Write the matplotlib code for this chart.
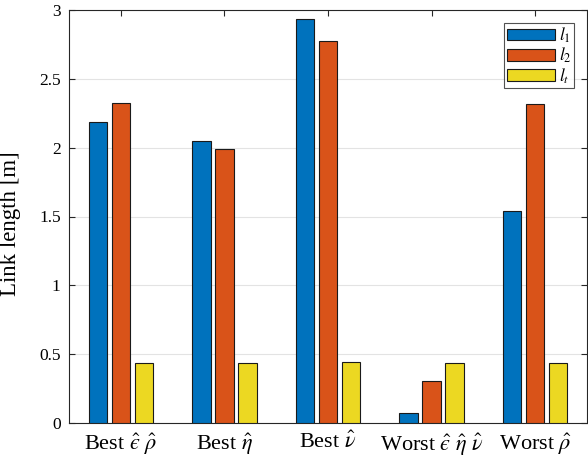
import matplotlib
matplotlib.use("Agg")
import matplotlib.pyplot as plt
import numpy as np

categories = ['Best $\\hat{\u03f5}\\ \\hat{\\rho}$', r'Best $\hat{\eta}$', r'Best $\hat{\nu}$',
              'Worst $\\hat{\u03f5}\\ \\hat{\\eta}\\ \\hat{\\nu}$', r'Worst $\hat{\rho}$']
l1 = [2.184, 2.046, 2.932, 0.070, 1.537]
l2 = [2.326, 1.990, 2.777, 0.307, 2.319]
lt = [0.438, 0.438, 0.443, 0.438, 0.435]
series_labels = [r'$l_1$', r'$l_2$', r'$l_t$']
colors = ['#0072BD', '#D95319', '#ECD822']
yticks = [0, 0.5, 1, 1.5, 2, 2.5, 3]
ytick_labels = ['0', '0.5', '1', '1.5', '2', '2.5', '3']

plt.rcParams['font.family'] = ['Liberation Serif', 'DejaVu Serif']
plt.rcParams['mathtext.fontset'] = 'stix'

fig = plt.figure(figsize=(5.88, 4.57), dpi=100)
ax = fig.add_axes([69/588, 34/457, 518/588, 413/457])

x = np.arange(1, len(categories) + 1)
width = 0.178
offsets = [-0.222, 0.0, 0.222]
for vals, off, c, lab in zip([l1, l2, lt], offsets, colors, series_labels):
    ax.bar(x + off, vals, width, color=c, edgecolor='#1a1a1a', linewidth=0.8, label=lab, zorder=3)

ax.set_xlim(0.5, 5.5)
ax.set_ylim(0, 3)
ax.set_yticks(yticks)
ax.set_yticklabels(ytick_labels, fontsize=12.5)
ax.set_xticks(x)
ax.set_xticklabels(categories, fontsize=16)
ax.set_ylabel('Link length [m]', fontsize=16.5)
ax.yaxis.set_label_coords(-48/518, 0.482)
ax.yaxis.grid(True, color='#e3e3e3', linewidth=0.8, zorder=0)
ax.set_axisbelow(True)
ax.tick_params(direction='in', top=True, right=True, length=4, width=0.8, colors='#262626', labelcolor='black')
ax.tick_params(axis='x', pad=6)
ax.tick_params(axis='y', pad=6)
for s in ax.spines.values():
    s.set_color('#262626')
    s.set_linewidth(0.8)

leg = ax.legend(loc='upper right', fontsize=12.5, handlelength=2.8, handleheight=0.65,
                frameon=True, fancybox=False, edgecolor='#262626', borderpad=0.15,
                labelspacing=0.05, handletextpad=0.2, borderaxespad=0.75)
leg.get_frame().set_linewidth(0.8)

fig.savefig('out.png', dpi=100)
